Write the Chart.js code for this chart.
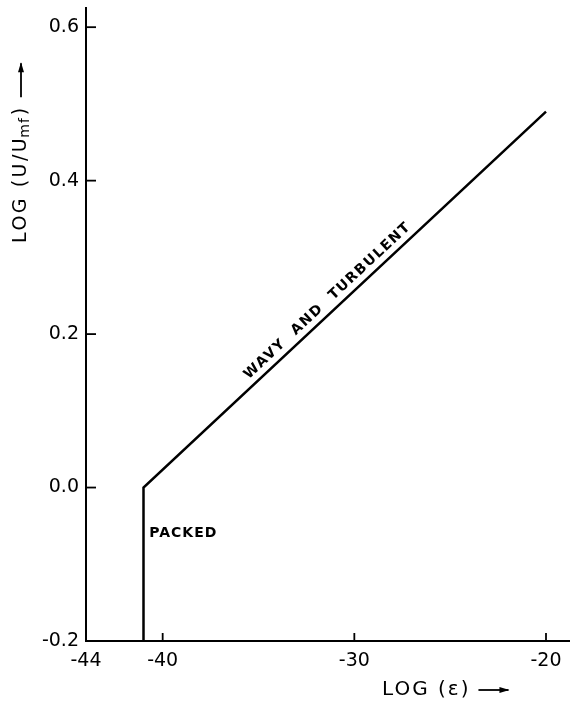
<!DOCTYPE html>
<html>
<head>
<meta charset="utf-8">
<style>
  html, body { margin: 0; padding: 0; background: #fff; }
  #c { display: block; }
</style>
<script src="https://cdn.jsdelivr.net/npm/chart.js@4.4.1/dist/chart.umd.min.js"></script>
</head>
<body>
<canvas id="c" width="578" height="702"></canvas>
<script>
// ---- data ----
const xTickValues = [-44, -40, -30, -20];
const yTickValues = [-0.2, 0.0, 0.2, 0.4, 0.6];
const boundaryX = [-41, -41, -20];
const boundaryY = [-0.2, 0.0, 0.49];
const xRange = [-44, -18.8];
const yRange = [-0.2, 0.625];
const regionLabels = ["PACKED", "WAVY  AND  TURBULENT"];
const packedLabelPos = [-40.7, -0.06];
const wavyLabelPos = [-31.0, 0.233];
const xTitle = "LOG (\u03B5)";
const yTitleMain = "LOG (U/U";
const yTitleSub = "mf";

const FONT = '"DejaVu Sans", "Liberation Sans", Arial, sans-serif';

const points = boundaryX.map((x, i) => ({ x: x, y: boundaryY[i] }));

function arrow(ctx, x0, y0, x1, y1) {
  ctx.beginPath();
  ctx.moveTo(x0, y0);
  ctx.lineTo(x1, y1);
  ctx.stroke();
  const a = Math.atan2(y1 - y0, x1 - x0);
  const L = 9, W = 3;
  ctx.beginPath();
  ctx.moveTo(x1 + Math.cos(a) * 1, y1 + Math.sin(a) * 1);
  ctx.lineTo(x1 - L * Math.cos(a) + W * Math.sin(a), y1 - L * Math.sin(a) - W * Math.cos(a));
  ctx.lineTo(x1 - L * Math.cos(a) - W * Math.sin(a), y1 - L * Math.sin(a) + W * Math.cos(a));
  ctx.closePath();
  ctx.fill();
}

const decorPlugin = {
  id: 'decor',
  afterDraw(chart) {
    const ctx = chart.ctx;
    const xs = chart.scales.x, ys = chart.scales.y;
    const area = chart.chartArea;
    ctx.save();
    ctx.strokeStyle = '#000';
    ctx.fillStyle = '#000';
    ctx.lineWidth = 1.8;
    // inward ticks
    yTickValues.forEach(v => {
      const py = ys.getPixelForValue(v);
      ctx.beginPath();
      ctx.moveTo(area.left, py);
      ctx.lineTo(area.left + 10, py);
      ctx.stroke();
    });
    xTickValues.forEach(v => {
      if (v === xRange[0]) return;
      const px = xs.getPixelForValue(v);
      ctx.beginPath();
      ctx.moveTo(px, area.bottom);
      ctx.lineTo(px, area.bottom - 8);
      ctx.stroke();
    });

    // region labels
    ctx.font = 'bold 14px ' + FONT;
    ctx.letterSpacing = '1px';
    ctx.textAlign = 'left';
    ctx.textBaseline = 'middle';
    ctx.fillText(regionLabels[0], xs.getPixelForValue(packedLabelPos[0]), ys.getPixelForValue(packedLabelPos[1]));

    const p1x = xs.getPixelForValue(boundaryX[1]), p1y = ys.getPixelForValue(boundaryY[1]);
    const p2x = xs.getPixelForValue(boundaryX[2]), p2y = ys.getPixelForValue(boundaryY[2]);
    const ang = Math.atan2(p2y - p1y, p2x - p1x);
    const ax = xs.getPixelForValue(wavyLabelPos[0]);
    const ay = ys.getPixelForValue(wavyLabelPos[1]);
    ctx.save();
    ctx.translate(ax, ay);
    ctx.rotate(ang);
    ctx.letterSpacing = '1.5px';
    ctx.textAlign = 'center';
    ctx.textBaseline = 'middle';
    ctx.fillText(regionLabels[1], 0, -11);
    ctx.restore();

    // x axis title
    ctx.font = '20px ' + FONT;
    ctx.letterSpacing = '2px';
    ctx.textAlign = 'left';
    ctx.textBaseline = 'middle';
    const tx = 382, ty = 690;
    ctx.fillText(xTitle, tx, ty);
    const tw = ctx.measureText(xTitle).width;
    ctx.lineWidth = 1.8;
    arrow(ctx, tx + tw + 8, ty, tx + tw + 38, ty);

    // y axis title (rotated)
    ctx.save();
    ctx.translate(21, 243);
    ctx.rotate(-Math.PI / 2);
    ctx.font = '19px ' + FONT;
    ctx.letterSpacing = '2.5px';
    ctx.textAlign = 'left';
    ctx.textBaseline = 'middle';
    let cx = 0;
    ctx.fillText(yTitleMain, cx, 0);
    cx += ctx.measureText(yTitleMain).width - 2;
    ctx.font = '14px ' + FONT;
    ctx.letterSpacing = '1px';
    ctx.fillText(yTitleSub, cx, 4);
    cx += ctx.measureText(yTitleSub).width + 2;
    ctx.font = '19px ' + FONT;
    ctx.letterSpacing = '2.5px';
    ctx.fillText(')', cx, 0);
    cx += ctx.measureText(')').width + 8;
    ctx.lineWidth = 1.8;
    arrow(ctx, cx, 0, cx + 34, 0);
    ctx.restore();

    ctx.restore();
  }
};

new Chart(document.getElementById('c'), {
  type: 'line',
  data: {
    datasets: [{
      data: points,
      borderColor: '#000',
      borderWidth: 2.5,
      pointRadius: 0,
      fill: false,
      tension: 0
    }]
  },
  options: {
    responsive: false,
    devicePixelRatio: 1,
    animation: false,
    layout: { padding: { left: 0, right: 9, top: 8, bottom: 0 } },
    plugins: { legend: { display: false }, tooltip: { enabled: false } },
    scales: {
      x: {
        type: 'linear',
        min: xRange[0], max: xRange[1],
        afterBuildTicks: s => { s.ticks = xTickValues.map(v => ({ value: v })); },
        afterFit: s => { s.height = 61; s.paddingLeft = 0; s.paddingRight = 0; },
        grid: { display: false, drawTicks: false },
        border: { display: true, color: '#000', width: 2 },
        ticks: {
          color: '#000',
          font: { family: FONT, size: 19 },
          padding: 9,
          maxRotation: 0,
          autoSkip: false,
          callback: v => String(v)
        }
      },
      y: {
        type: 'linear',
        min: yRange[0], max: yRange[1],
        afterBuildTicks: s => { s.ticks = yTickValues.map(v => ({ value: v })); },
        afterFit: s => { s.width = 86; s.paddingTop = 0; s.paddingBottom = 0; },
        grid: { display: false, drawTicks: false },
        border: { display: true, color: '#000', width: 2 },
        ticks: {
          color: '#000',
          font: { family: FONT, size: 19 },
          padding: 7,
          autoSkip: false,
          callback: v => Number(v).toFixed(1)
        }
      }
    }
  },
  plugins: [decorPlugin]
});
</script>
</body>
</html>
